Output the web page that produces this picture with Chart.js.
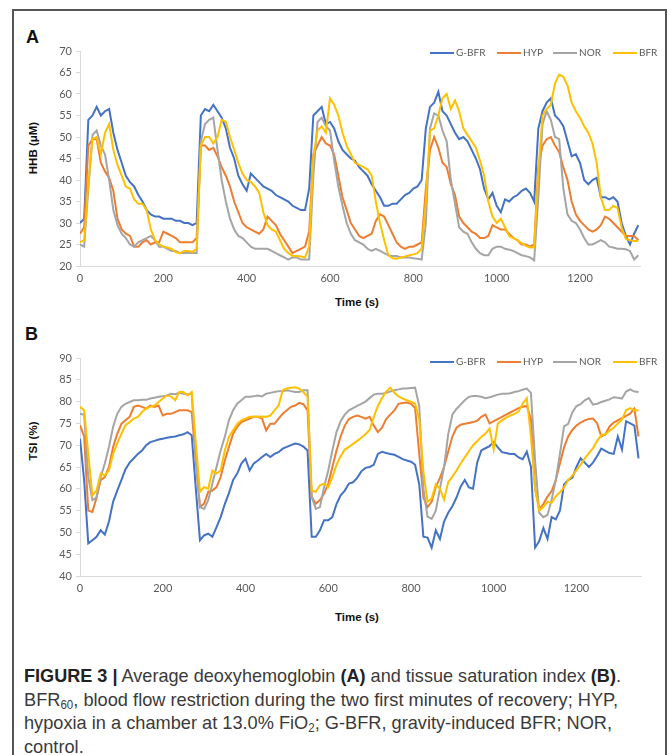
<!DOCTYPE html>
<html>
<head>
<meta charset="utf-8">
<script src="https://cdn.jsdelivr.net/npm/chart.js@4.4.1/dist/chart.umd.min.js"></script>
<style>
  html, body { margin: 0; padding: 0; background: #fff; }
  #page { position: relative; width: 670px; height: 755px; overflow: hidden; font-family: "Liberation Sans", Arial, sans-serif; }
  #frame { position: absolute; left: 12px; top: 9px; width: 651px; height: 800px; border: 2px solid #555; border-bottom: none; }
  .panel { position: absolute; font-weight: bold; font-size: 18px; line-height: 18px; color: #111; }
  .ytitle { position: absolute; width: 90px; height: 14px; line-height: 14px; text-align: center; font-weight: bold; font-size: 11.5px; color: #111; transform: rotate(-90deg); white-space: nowrap; }
  .xtitle { position: absolute; width: 90px; height: 14px; line-height: 14px; text-align: center; font-weight: bold; font-size: 11.5px; color: #111; white-space: nowrap; }
  canvas { position: absolute; }
  .cap { position: absolute; left: 24px; height: 22px; line-height: 22px; font-family: "Liberation Sans", Arial, sans-serif; font-size: 19px; color: #3a3a3a; white-space: nowrap; transform-origin: 0 50%; }
  .cap b { color: #222; }
  .cap sub { font-size: 12px; vertical-align: -3px; line-height: 0; }
</style>
</head>
<body>
<div id="page">
  <div id="frame"></div>

  <div class="panel" style="left:26px; top:28px;">A</div>
  <div class="ytitle" style="left:-12px; top:141px;">HHB (μM)</div>
  <canvas id="chartA" width="620" height="250" style="left:40px; top:40px; width:620px; height:250px;"></canvas>
  <div class="xtitle" style="left:312px; top:295px;">Time (s)</div>

  <div class="panel" style="left:25px; top:325px;">B</div>
  <div class="ytitle" style="left:-12px; top:434px;">TSI (%)</div>
  <canvas id="chartB" width="625" height="260" style="left:40px; top:340px; width:625px; height:260px;"></canvas>
  <div class="xtitle" style="left:312px; top:610px;">Time (s)</div>

  <div class="cap" data-w="597" style="top:665px;"><b>FIGURE 3 |</b> Average deoxyhemoglobin <b>(A)</b> and tissue saturation index <b>(B)</b>.</div>
  <div class="cap" data-w="594" style="top:688.5px;">BFR<sub>60</sub>, blood flow restriction during the two first minutes of recovery; HYP,</div>
  <div class="cap" data-w="588" style="top:712px;">hypoxia in a chamber at 13.0% FiO<sub>2</sub>; G-BFR, gravity-induced BFR; NOR,</div>
  <div class="cap" style="top:735.5px;">control.</div>
</div>

<script>
/* ───────── DATA ───────── */
const SERIES = ['G-BFR', 'HYP', 'NOR', 'BFR'];

// sample times (s)
const T = [
  0,10,20,30,40,50,60,70,80,90,100,110,120,130,140,150,160,170,180,190,
  200,210,220,230,240,250,260,270,280,290,300,310,320,330,340,350,360,370,380,390,
  400,410,420,430,440,450,460,470,480,490,500,510,520,530,540,550,560,570,580,590,
  600,610,620,630,640,650,660,670,680,690,700,710,720,730,740,750,760,770,780,790,
  800,810,820,830,840,850,860,870,880,890,900,910,920,930,940,950,960,970,980,990,
  1000,1010,1020,1030,1040,1050,1060,1070,1080,1090,1100,1110,1120,1130,1140,1150,1160,1170,1180,1190,
  1200,1210,1220,1230,1240,1250,1260,1270,1280,1290,1300,1310,1320,1330,1340,1350
];

const X_TICKS = [0, 200, 400, 600, 800, 1000, 1200];
const HHB_TICKS = [20, 25, 30, 35, 40, 45, 50, 55, 60, 65, 70];
const TSI_TICKS = [40, 45, 50, 55, 60, 65, 70, 75, 80, 85, 90];

// Panel A – HHB (µM)
const HHB_GBFR = [
  30,31,54,55,57,55,56,56.5,51,47, 44,41,39.5,38.5,36.5,35,33,32,31.5,31.5,
  31,31,31,30.5,30.5,30,30,29.5,30,55, 56.5,56,57.5,56,54.5,52,47.5,45,41,39,
  37.5,41.5,40.5,39.5,38.5,38,37.5,36.5,36,35.5, 35,34,33.5,33,33,38,55,56,57,53,
  53.5,52,49,47,46,45,44.5,43,42,41, 39,37.5,36,34,34,34.5,34.5,35.5,36.5,37,
  38,38.5,40,52,57,58,60.5,56,55,53, 51,49.5,50,49,47,45,42.5,38,35.5,37,
  34,32.5,35.5,35,36,36.5,37.5,38,37,35, 52,56,58,59,55,54,52.5,49,45.5,46,
  44,40,39,40,40.5,36,36,35.5,36,35, 30,27,25,27.5,29.5
];
const HHB_HYP = [
  27.5,29,48,49.5,49.5,44,42,40.5,37.5,31, 28.5,27.5,27,24.5,24.5,25.5,26,25,25.5,25.5,
  28,27.5,27,26.5,25.5,25.5,25.5,25.5,26.5,48, 48,47,47.5,45.5,43,41,38.5,35,32.5,30,
  29,28.5,28,27.5,28.5,31.5,30.5,29.5,27.5,26, 24.5,23,23.5,24,24.5,28,46,48,50,48.5,
  48,46,41,36,33,30,28.5,27,26.5,27, 27.5,30.5,32,31.5,29.5,27.5,25.5,24.5,24,24.5,
  24.5,25,25.5,38,47,50,47.5,44,43,39, 36.5,31.5,30,29,28,27.5,26.5,26.5,27,29.5,
  29,28.5,28.5,27.5,26.5,26,25,25,24.5,25, 43,48,49.5,50,48,46.5,43,40,35,32,
  30.5,29.5,28.5,28,28.5,29.5,31.5,31,30,29, 28,27,27,27,26
];
const HHB_NOR = [
  25,24.5,38,50.5,51.5,48,46,40,33,29.5, 27.5,26.5,25,24.5,25.5,26,26.5,27,26,24.5,
  24.5,24,23.5,23.5,23,23,23,23,23,49, 53,54,54.5,47,40,35,31,28.5,27,26.5,
  25.5,24.5,24,24,24,24,23.5,23,22.5,22, 21.5,22,22,21.5,21.5,21.5,41,53.5,54.5,52.5,
  51.5,44.5,38.5,34,30,27.5,26,25.5,25,24, 23.5,24,23.5,23,22.5,22.3,22.3,22,22,22,
  21.8,21.7,21.5,30,52,55.5,55,51.5,49,40, 34.5,29,28,27.5,25.5,24,23,22.5,22.5,24,
  24.5,24.5,24,23.8,23.5,23,22.5,22.3,22,21.3, 36,53,56,54,50,49.5,38,32,30.5,30,
  28.5,26.5,25,25,25.5,26,25.5,24.5,24.3,24, 24,23.9,23.5,21.5,22.5
];
const HHB_BFR = [
  25.5,26,39,49.5,50,46,51,53,47,43.5, 41,38.5,38,35.5,34.5,34.5,33,28.5,26,25,
  24.5,24.3,24,23.2,23,23.5,23.5,23.3,24,48, 50,50,48.5,50,54,53.5,50,47,44,41.5,
  40,39.5,38.5,37,32.5,29.5,28.5,28,26,24, 23,22.3,22.3,22.2,22,24.5,45.5,51.5,52.5,51,
  59,57.5,55,51,48,46,44,43.5,43,42.5, 41,35,30,26,22.5,21.8,21.7,22,22.2,22.5,
  22.7,23,24,35,51.5,52,55,59,60,56.5, 58.5,56,52,50.5,49,47.5,44.5,41,35,31.5,
  30,31,29,27,26.5,26,25.3,24.7,24.3,24.3, 42,55,56.5,57.5,62.5,64.5,64,62,58,56,
  54.5,52.5,51,48.5,44,36,33,33,34,33.5, 29,26.3,26,25.8,25.8
];

// Panel B – TSI (%)
const TSI_GBFR = [
  71.5,62,47.5,48.2,49,50.5,49.5,52.5,57,59.6, 62,64.5,66,67,68,68.8,70,70.7,71,71.3,
  71.5,71.7,71.9,72,72.3,72.5,73,72.3,60,48.2, 49.3,49.7,49,51.2,53.5,56.5,59,62,63.5,65.8,
  66.9,64.2,65.8,66.5,67.3,68,67.3,68,68.4,69.2, 69.6,70,70.4,70.2,69.7,68.8,49,49,50.5,52.8,
  52.8,53.5,56.5,58.5,59.6,61.2,61.5,62.5,64,64.8, 65,65.5,68,68.5,68.2,68,67.8,67.3,66.8,66.5,
  66.2,65.5,61,49,48.8,46.5,50.5,48.5,52.5,54.5, 56,58,60.5,62,60.3,60,66,68.8,69.3,69.8,
  70.7,69.5,68.4,68.2,68,68,67.2,66.8,68.5,65, 46.5,48,51,48.5,53.5,53,55,61,62,62.5,
  65,67,66,65,66,67.5,69.2,68.7,68.2,68, 72,69,75.5,75,74.5,67
];
const TSI_HYP = [
  74.6,72,55,54.7,58,62,62.7,65,69.6,72.6, 74.9,75.7,76.5,78.8,79.1,78.8,78.4,79.1,78.8,79.1,
  76.8,77.2,77.2,77.6,78,78,78,77.6,66.5,55.8, 56.6,59.3,59.6,60.4,62.7,66.5,69.6,72.6,74.2,75.3,
  75.7,76.1,76.5,76.5,76.1,73.4,74.9,74.9,76.1,77.2, 78,78.8,79.1,79.7,79.4,78,58.1,56.6,57.4,58.9,
  61.2,65,68.8,72,74.5,76,76.5,76.8,76.5,76.1, 76.5,74.5,73,74,76,77,78,79.5,79.7,79.8,
  79.5,78.5,68,58,55.8,57,60.4,62.5,65,68.5, 72,74,74.7,74.9,75.1,75.3,75.6,76.5,77,75,
  75.5,76,76.5,77,77.5,78,78.5,78.8,79,76, 60,55.3,56.5,58.2,59.5,62,65.8,69.5,72,73.5,
  74.5,75.2,75.7,76,76.1,75,72,72.5,74.3,75.2, 75.7,76.2,76.7,77.3,78.4,72
];
const TSI_NOR = [
  77.2,77,62.7,57.4,58,62.7,65.8,69.6,74.2,77.2, 78.8,79.5,79.9,80.3,80.3,80.4,80.4,80.7,80.9,81.1,
  81.2,81.4,81.8,81.7,82,81.8,81.7,81.8,66.5,55.8, 55.4,57.4,61.2,65,68.8,71.9,75.7,78,79.5,80.3,
  81.1,81.1,81.2,81.4,81.2,81.8,82,82.2,82.4,82.4, 82.6,82.4,82.2,82.2,82.6,82.6,58.1,55.4,55.8,60.4,
  64.2,68.8,73,75.5,77,78,78.5,79,79.5,80, 80.8,81.6,81.8,81.8,82,82.3,82.6,82.8,83,83,
  83.1,83.2,79,60,53.6,53.1,55,60,65,72.5, 77,78.3,79.3,80.3,81.1,81.3,81.3,81.1,80.8,81,
  81.3,81.6,81.8,81.8,81.9,82.2,82.4,82.7,83,82, 66.5,54.5,53.5,54,57.5,62,68,74.3,74.9,77.5,
  79,79.4,80.3,80.8,79.3,79.5,79.9,80.2,80.5,81, 80.9,80.7,82.3,82.8,82.3,82.2
];
const TSI_BFR = [
  78.8,78,68,58.5,59.6,63.5,63.1,64.2,68,70.4, 72.6,74.6,75.3,76.1,76.5,77.6,78.4,78.8,79.1,79.9,
  80.7,81.4,81.2,80.3,82.2,82.2,81.4,82.2,70.4,59.3, 60.4,60,64.2,63.5,64.2,68.8,71.9,73.4,74.9,75.7,
  76.1,76.5,76.5,76.5,76.6,76.5,76.8,78,79.1,82.6, 83,83.2,83.3,83,82.2,81.1,59.6,59.3,60.8,61.2,
  60.4,62.7,65.5,67.5,69,69.6,70.3,71,71.7,72.5, 73.5,76.5,79,80.8,82.3,83.2,82,81.2,80.7,80.3,
  80,79.5,76,64,57,57.8,61,60,57.5,61.5, 62.8,64.2,65.8,67.2,68.6,70,70.9,71.9,72.7,73.8,
  69,75,75.7,76.3,76.8,77.2,77.7,79.5,80.8,72, 60,55,55.8,57,56.8,58.3,59.2,60.3,62,63,
  64.3,65.5,67,68.2,69.3,71,72.3,72.5,73.3,74, 75,75.9,78,78.5,78,78
];

/* ───────── STYLE ───────── */
const COLORS = { 'G-BFR': '#4472C4', 'HYP': '#ED7D31', 'NOR': '#A5A5A5', 'BFR': '#FFC000' };
const AXIS_GRAY = '#d9d9d9';
const TICK_TEXT = '#595959';

function points(vals){
  return T.map((t, i) => ({ x: t, y: vals[i] })).filter(p => p.y !== undefined);
}

// small excel-like legend, drawn over the plot area
const lineLegend = {
  id: 'lineLegend',
  afterDraw(chart, args, opts){
    const ctx = chart.ctx, ca = chart.chartArea;
    ctx.save();
    ctx.font = '10px Lato, "Open Sans", sans-serif';
    ctx.textBaseline = 'middle';
    const y = ca.top + opts.dy;
    SERIES.forEach((name, i) => {
      const x = ca.left + opts.xs[i];
      ctx.strokeStyle = COLORS[name];
      ctx.lineWidth = 2;
      ctx.beginPath(); ctx.moveTo(x, y); ctx.lineTo(x + 24, y); ctx.stroke();
      ctx.fillStyle = TICK_TEXT;
      ctx.fillText(name, x + 26, y);
    });
    ctx.restore();
  }
};

function makeChart(id, valuesBySeries, yTicks, xMax, pad, xAxisH, legendDy){
  // reversed so BFR is painted on top, like the excel original
  const datasets = SERIES.slice().reverse().map(name => ({
    label: name,
    data: points(valuesBySeries[name]),
    borderColor: COLORS[name],
    backgroundColor: COLORS[name],
    borderWidth: 2,
    pointRadius: 0,
    tension: 0,
    fill: false
  }));
  const tickFont = { family: 'Lato, "Open Sans", sans-serif', size: 11 };
  return new Chart(document.getElementById(id), {
    type: 'line',
    data: { datasets },
    plugins: [lineLegend],
    options: {
      responsive: false, animation: false,
      layout: { padding: pad },
      plugins: {
        legend: { display: false }, tooltip: { enabled: false },
        lineLegend: { dy: legendDy, xs: [350, 417, 473, 533] }
      },
      scales: {
        x: {
          type: 'linear', min: 0, max: xMax,
          afterBuildTicks: s => { s.ticks = X_TICKS.map(v => ({ value: v })); },
          afterFit: s => { s.height = xAxisH; },
          grid: { drawOnChartArea: false, drawTicks: false },
          border: { color: AXIS_GRAY, width: 1 },
          ticks: { color: TICK_TEXT, font: tickFont, padding: 6, maxRotation: 0, callback: v => String(v) }
        },
        y: {
          min: yTicks[0], max: yTicks[yTicks.length - 1],
          afterBuildTicks: s => { s.ticks = yTicks.map(v => ({ value: v })); },
          afterFit: s => { s.width = 40; },
          grid: { drawOnChartArea: false, drawTicks: true, tickLength: 4, color: AXIS_GRAY },
          border: { color: AXIS_GRAY, width: 1 },
          ticks: { color: TICK_TEXT, font: tickFont, padding: 4, callback: v => String(v) }
        }
      }
    }
  });
}

makeChart('chartA',
  { 'G-BFR': HHB_GBFR, 'HYP': HHB_HYP, 'NOR': HHB_NOR, 'BFR': HHB_BFR },
  HHB_TICKS, 1344, { top: 11, right: 20, left: 0, bottom: 0 }, 24, 2);

makeChart('chartB',
  { 'G-BFR': TSI_GBFR, 'HYP': TSI_HYP, 'NOR': TSI_NOR, 'BFR': TSI_BFR },
  TSI_TICKS, 1356, { top: 18, right: 24, left: 0, bottom: 0 }, 24, 4);

// squeeze caption lines to the narrow width of the printed caption
let lastScale = 0.9;
document.querySelectorAll('.cap').forEach(el => {
  const target = parseFloat(el.dataset.w);
  const w = el.getBoundingClientRect().width;
  if (target && w) lastScale = target / w;
  el.style.transform = 'scaleX(' + lastScale + ')';
});
</script>
</body>
</html>
